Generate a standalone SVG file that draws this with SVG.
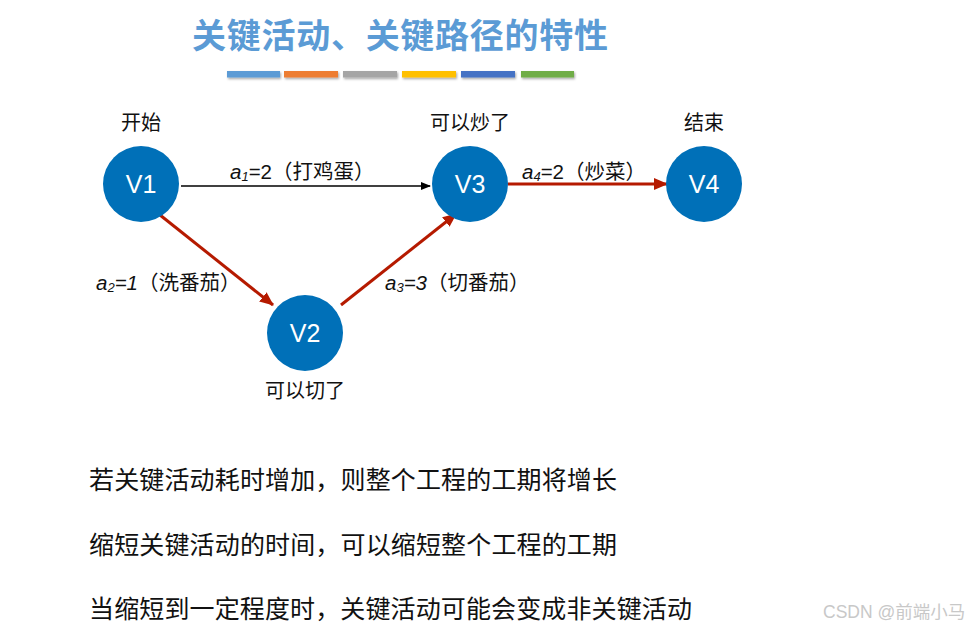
<svg xmlns="http://www.w3.org/2000/svg" width="973" height="631" viewBox="0 0 973 631">
<defs>
<marker id="ab" markerWidth="10" markerHeight="8" refX="9" refY="4" orient="auto" markerUnits="userSpaceOnUse"><path d="M0,0 L10,4 L0,8 Z" fill="#000"/></marker>
<marker id="ar" markerWidth="14" markerHeight="12" refX="13" refY="6" orient="auto" markerUnits="userSpaceOnUse"><path d="M0,0 L14,6 L0,12 Z" fill="#b51a00"/></marker>
<filter id="sh" x="-10%" y="-50%" width="120%" height="250%"><feDropShadow dx="1" dy="1.5" stdDeviation="1" flood-color="#000" flood-opacity="0.35"/></filter>
</defs>
<style>
text{font-family:"Liberation Sans","Noto Sans CJK SC",sans-serif;}
.node{fill:#0070b8;}
.nt{fill:#fff;font-size:25px;text-anchor:middle;}
.lb{fill:#111;font-size:20px;text-anchor:middle;}
.el{fill:#111;font-size:20.5px;}
.el .i{font-style:italic;}
.body{fill:#111;font-size:25px;}
.red{stroke:#b51a00;stroke-width:3;fill:none;}
</style>
<rect width="973" height="631" fill="#fff"/>
<text x="400" y="48" text-anchor="middle" font-size="34" font-weight="bold" fill="#5b9bd5" textLength="416">关键活动、关键路径的特性</text>
<g filter="url(#sh)">
<rect x="227" y="71" width="53" height="6.5" fill="#5b9bd5"/>
<rect x="284" y="71" width="54" height="6.5" fill="#ed7d31"/>
<rect x="343" y="71" width="54" height="6.5" fill="#a5a5a5"/>
<rect x="402" y="71" width="54" height="6.5" fill="#ffc000"/>
<rect x="461" y="71" width="54" height="6.5" fill="#4472c4"/>
<rect x="521" y="71" width="53" height="6.5" fill="#70ad47"/>
</g>
<g id="connectors">
<line x1="181" y1="186" x2="430" y2="186" stroke="#000" stroke-width="1.5" marker-end="url(#ab)"/>
<line class="red" x1="160" y1="215" x2="273" y2="305" marker-end="url(#ar)"/>
<line class="red" x1="341" y1="305" x2="456" y2="214" marker-end="url(#ar)"/>
<line class="red" x1="508" y1="184" x2="667" y2="184" marker-end="url(#ar)"/>
<text class="el" x="230" y="179"><tspan class="i">a</tspan><tspan class="i" font-size="13" dy="2">1</tspan><tspan dy="-2">=2（打鸡蛋）</tspan></text>
<text class="el" x="96" y="290"><tspan class="i">a</tspan><tspan class="i" font-size="13" dy="2">2</tspan><tspan dy="-2" class="i">=1</tspan><tspan>（洗番茄）</tspan></text>
<text class="el" x="385" y="290"><tspan class="i">a</tspan><tspan class="i" font-size="13" dy="2">3</tspan><tspan dy="-2" class="i">=3</tspan><tspan>（切番茄）</tspan></text>
<text class="el" x="522" y="179"><tspan class="i">a</tspan><tspan class="i" font-size="13" dy="2">4</tspan><tspan dy="-2">=2（炒菜）</tspan></text>
</g>
<g id="V1"><circle class="node" cx="141" cy="184" r="38"/><text class="nt" x="141" y="193">V1</text><text class="lb" x="141" y="130">开始</text></g>
<g id="V3"><circle class="node" cx="470" cy="184" r="38"/><text class="nt" x="470" y="193">V3</text><text class="lb" x="470" y="130">可以炒了</text></g>
<g id="V4"><circle class="node" cx="704" cy="184" r="38"/><text class="nt" x="704" y="193">V4</text><text class="lb" x="704" y="130">结束</text></g>
<g id="V2"><circle class="node" cx="305" cy="333" r="38"/><text class="nt" x="305" y="342">V2</text><text class="lb" x="305" y="398">可以切了</text></g>
<text class="body" x="89" y="489" textLength="528">若关键活动耗时增加，则整个工程的工期将增长</text>
<text class="body" x="89" y="554" textLength="528">缩短关键活动的时间，可以缩短整个工程的工期</text>
<text class="body" x="89" y="618" textLength="603">当缩短到一定程度时，关键活动可能会变成非关键活动</text>
<text x="823" y="618" font-size="17.5" fill="#c8c8c8">CSDN @前端小马</text>
</svg>
